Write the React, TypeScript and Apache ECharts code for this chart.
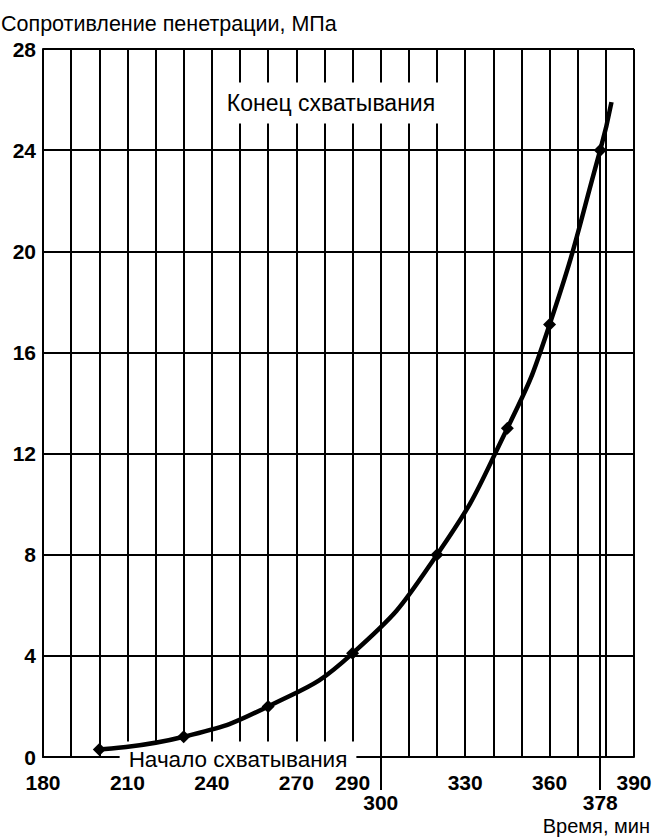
import React, { useEffect, useRef } from 'react';
import * as echarts from 'echarts';

// ---- Data ----
const timeValues = [200, 230, 260, 290, 320, 345, 360, 378, 382];
const resistanceValues = [0.3, 0.8, 2.0, 4.1, 8.0, 13.0, 17.1, 24.0, 25.9];
const markedPoints = [true, true, true, true, true, true, true, true, false];
const xLabelsRow1 = [180, 210, 240, 270, 290, 330, 360, 390];
const xLabelsRow2 = [300, 378];
const finalSetTime = 378;
const finalSetResistance = 24;
const titleText = 'Сопротивление пенетрации, МПа';
const xName = 'Время, мин';
const startLabel = 'Начало схватывания';
const endLabel = 'Конец схватывания';

const FONT = '"Liberation Sans", Arial, sans-serif';

export default function App() {
  const ref = useRef<HTMLDivElement>(null);
  useEffect(() => {
    document.body.style.margin = '0';
    if (!ref.current) return;
    const chart = echarts.init(ref.current, null, { renderer: 'svg' });
    const black = '#000';
    const numStyle = { fontFamily: FONT, fontSize: 21, fontWeight: 'bold' as const, color: black };
    chart.setOption({
      animation: false,
      backgroundColor: '#fff',
      title: {
        text: titleText,
        left: 1,
        top: 13,
        padding: 0,
        textStyle: { fontFamily: FONT, fontSize: 21.5, fontWeight: 'normal', color: black },
      },
      grid: { left: 43, right: 22, top: 49, bottom: 83, containLabel: false },
      xAxis: [
        {
          type: 'value',
          min: 180,
          max: 390,
          interval: 10,
          position: 'bottom',
          axisLine: { show: true, lineStyle: { color: black, width: 2 } },
          axisTick: { show: false },
          splitLine: { show: true, lineStyle: { color: black, width: 2 } },
          axisLabel: {
            ...numStyle,
            margin: 15,
            showMinLabel: true,
            showMaxLabel: true,
            formatter: (v: number) => (xLabelsRow1.includes(v) ? String(v) : ''),
          },
        },
        {
          type: 'value',
          min: 180,
          max: 390,
          position: 'bottom',
          axisLine: { show: false },
          splitLine: { show: false },
          axisTick: {
            show: true,
            customValues: xLabelsRow2,
            length: 33,
            lineStyle: { color: black, width: 2 },
          },
          axisLabel: { ...numStyle, customValues: xLabelsRow2, margin: 35 },
        },
      ],
      yAxis: {
        type: 'value',
        min: 0,
        max: 28,
        interval: 4,
        axisLine: { show: true, lineStyle: { color: black, width: 2 } },
        axisTick: { show: false },
        splitLine: { show: true, lineStyle: { color: black, width: 2 } },
        axisLabel: { ...numStyle, margin: 7 },
      },
      series: [
        {
          type: 'line',
          xAxisIndex: 0,
          data: timeValues.map((t, i) => ({
            value: [t, resistanceValues[i]],
            symbol: markedPoints[i] ? 'diamond' : 'none',
          })),
          symbolSize: 13,
          smooth: 0.5,
          lineStyle: { color: black, width: 4.5 },
          itemStyle: { color: black },
          z: 3,
          markLine: {
            silent: true,
            symbol: 'none',
            label: { show: false },
            lineStyle: { color: black, width: 2, type: 'solid' },
            data: [[{ coord: [finalSetTime, 0] }, { coord: [finalSetTime, finalSetResistance] }]],
          },
        },
      ],
      graphic: [
        {
          type: 'text',
          x: 331,
          y: 103,
          z: 1,
          style: {
            text: endLabel,
            font: `23px ${FONT}`,
            fill: black,
            align: 'center',
            verticalAlign: 'middle',
            backgroundColor: '#fff',
            padding: [9, 8],
          },
        },
        {
          type: 'text',
          x: 238,
          y: 759,
          z: 1,
          style: {
            text: startLabel,
            font: `22.5px ${FONT}`,
            fill: black,
            align: 'center',
            verticalAlign: 'middle',
            backgroundColor: '#fff',
            padding: [6, 9],
          },
        },
        {
          type: 'text',
          x: 650,
          y: 826,
          z: 1,
          style: {
            text: xName,
            font: `20px ${FONT}`,
            fill: black,
            align: 'right',
            verticalAlign: 'middle',
          },
        },
      ],
    });
    return () => chart.dispose();
  }, []);
  return <div ref={ref} style={{ width: 656, height: 840 }} />;
}
